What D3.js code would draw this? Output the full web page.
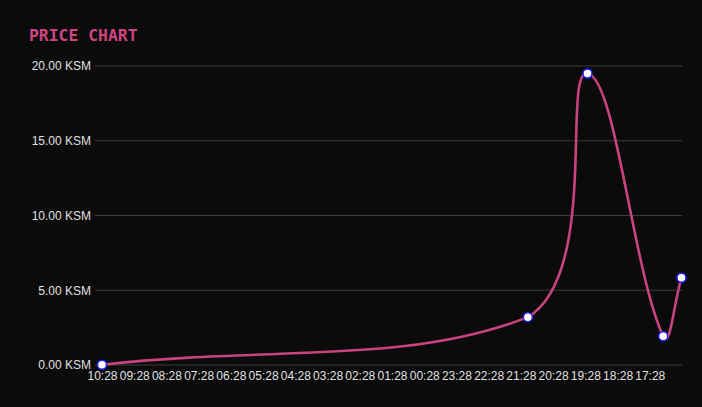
<!doctype html>
<html>
  <head>
    <script src="https://cdnjs.cloudflare.com/ajax/libs/d3/7.8.5/d3.min.js"></script>
    <style>
      html, body {
        margin: 0;
        padding: 0;
        background: #0b0b0b;
      }
      .title {
        font: bold 16.4px "DejaVu Sans Mono", monospace;
        fill: #cf4581;
      }
      .axis text {
        font: 12px "Liberation Sans", Arial, sans-serif;
        fill: #e0e0e0;
      }
      .grid line {
        stroke: #3c3c3c;
        stroke-width: 1;
      }
      path.price {
        fill: none;
        stroke: #c9437c;
        stroke-width: 2.6;
      }
      circle.dot {
        fill: #ffffff;
        stroke: #1d1dff;
        stroke-width: 1.5;
      }
    </style>
  </head>
  <body>
    <svg id="chart" width="702" height="407"></svg>
    <script>
      // price points (time, KSM)
      var times = ["2023-03-02T10:28", "2023-03-01T21:15", "2023-03-01T19:24", "2023-03-01T17:03", "2023-03-01T16:29"];
      var prices = [0.02, 3.2, 19.5, 1.92, 5.84];
      var yTicks = [0, 5, 10, 15, 20];
      var xTickLabels = ["10:28", "09:28", "08:28", "07:28", "06:28", "05:28", "04:28", "03:28", "02:28",
                         "01:28", "00:28", "23:28", "22:28", "21:28", "20:28", "19:28", "18:28", "17:28"];

      var parse = d3.timeParse("%Y-%m-%dT%H:%M");
      var data = times.map((t, i) => ({ t: parse(t), v: prices[i] }));

      var svg = d3.select("#chart");
      var plotLeft = 102, plotRight = 682, plotTop = 66, plotBottom = 365;

      svg.append("text")
        .attr("class", "title")
        .attr("x", 29)
        .attr("y", 41)
        .text("PRICE CHART");

      // newest on the left, 18 hours back to the right
      var start = parse("2023-03-02T10:28");
      var x = d3.scaleTime()
        .domain([start, d3.timeHour.offset(start, -18)])
        .range([plotLeft, plotRight]);
      var y = d3.scaleLinear()
        .domain([0, 20])
        .range([plotBottom, plotTop]);

      // grid
      svg.append("g")
        .attr("class", "grid")
        .selectAll("line")
        .data(yTicks)
        .enter()
        .append("line")
          .attr("x1", plotLeft - 7)
          .attr("x2", plotRight)
          .attr("y1", d => y(d))
          .attr("y2", d => y(d));

      var yAxis = svg.append("g")
        .attr("class", "axis")
        .attr("transform", "translate(" + plotLeft + ",0)")
        .call(d3.axisLeft(y).tickValues(yTicks).tickSize(7).tickPadding(4)
          .tickFormat(d => d3.format(".2f")(d) + " KSM"));
      yAxis.select(".domain").remove();
      yAxis.selectAll("line").remove();
      yAxis.selectAll("text").attr("x", -11);

      var xTickTimes = xTickLabels.map((l, i) => d3.timeHour.offset(start, -i));
      var xAxis = svg.append("g")
        .attr("class", "axis")
        .attr("transform", "translate(0," + plotBottom + ")")
        .call(d3.axisBottom(x).tickValues(xTickTimes).tickSize(0).tickPadding(6)
          .tickFormat((d, i) => xTickLabels[i]));
      xAxis.select(".domain").remove();

      // tension spline (0.4) with control points kept inside the plot area
      function curveTension(tension, area) {
        return function(context) {
          var pts;
          function cap(v, lo, hi) { return Math.max(Math.min(v, hi), lo); }
          return {
            areaStart: function() {}, areaEnd: function() {},
            lineStart: function() { pts = []; },
            point: function(px, py) { pts.push({ x: +px, y: +py }); },
            lineEnd: function() {
              var n = pts.length, i;
              if (!n) return;
              for (i = 0; i < n; i++) {
                var p = pts[i], a = pts[Math.max(i - 1, 0)], b = pts[Math.min(i + 1, n - 1)];
                var d01 = Math.hypot(p.x - a.x, p.y - a.y), d12 = Math.hypot(b.x - p.x, b.y - p.y);
                var s01 = d01 / (d01 + d12) || 0, s12 = d12 / (d01 + d12) || 0;
                var fa = tension * s01, fb = tension * s12;
                p.c1x = cap(p.x - fa * (b.x - a.x), area[0], area[2]);
                p.c1y = cap(p.y - fa * (b.y - a.y), area[1], area[3]);
                p.c2x = cap(p.x + fb * (b.x - a.x), area[0], area[2]);
                p.c2y = cap(p.y + fb * (b.y - a.y), area[1], area[3]);
              }
              context.moveTo(pts[0].x, pts[0].y);
              for (i = 1; i < n; i++) {
                context.bezierCurveTo(pts[i - 1].c2x, pts[i - 1].c2y, pts[i].c1x, pts[i].c1y, pts[i].x, pts[i].y);
              }
            }
          };
        };
      }

      var line = d3.line()
        .x(d => x(d.t))
        .y(d => y(d.v))
        .curve(curveTension(0.4, [plotLeft, plotTop, plotRight, plotBottom]));

      svg.append("path")
        .datum(data.slice().sort((a, b) => x(a.t) - x(b.t)))
        .attr("class", "price")
        .attr("d", line);

      svg.selectAll("circle.dot")
        .data(data)
        .enter()
        .append("circle")
          .attr("class", "dot")
          .attr("cx", d => x(d.t))
          .attr("cy", d => y(d.v))
          .attr("r", 4.5);
    </script>
  </body>
</html>
